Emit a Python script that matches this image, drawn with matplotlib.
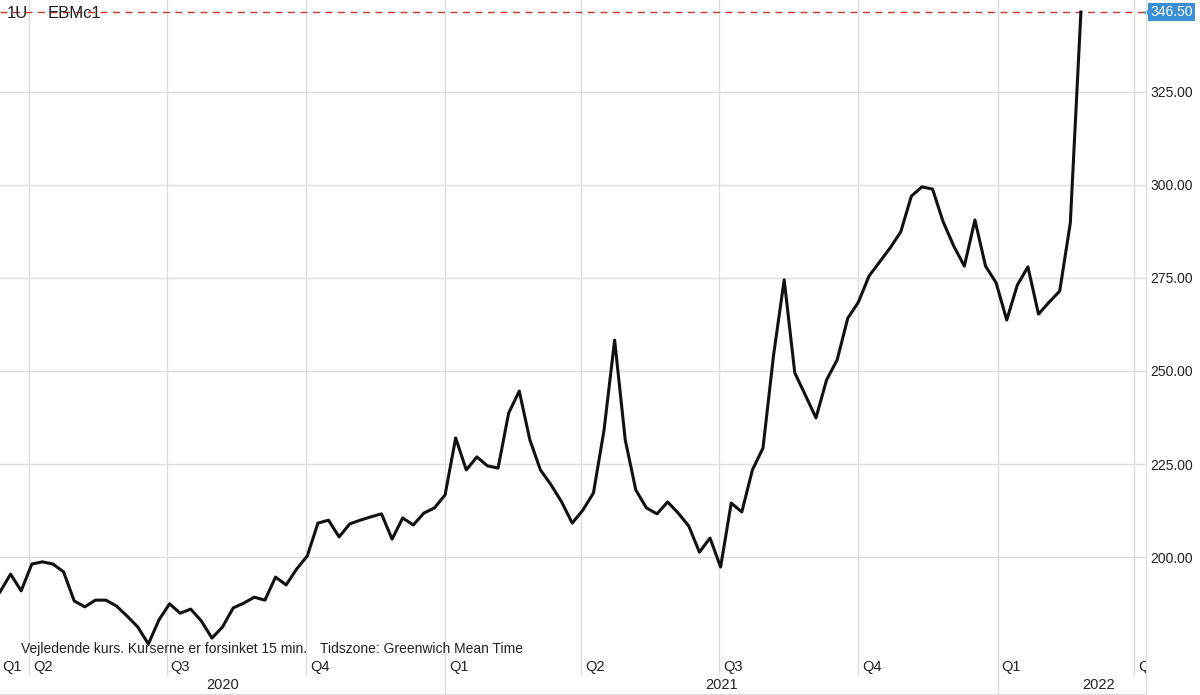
import numpy as np
import pandas as pd
import matplotlib
matplotlib.use("Agg")
import matplotlib.pyplot as plt
import matplotlib.dates as mdates
import matplotlib.transforms as mtransforms

# Weekly closes, EBMc1 (Euronext milling wheat)
dates = pd.date_range("2020-03-13", periods=103, freq="7D")
prices = [
    190.6, 195.4, 190.9, 198.1, 198.7, 198.1, 196.0, 188.2, 186.6, 188.4,
    188.4, 186.8, 184.1, 181.2, 176.6, 183.1, 187.4, 184.9, 186.0, 182.8,
    178.2, 181.2, 186.3, 187.6, 189.2, 188.4, 194.6, 192.5, 196.8, 200.3,
    209.1, 209.9, 205.4, 208.9, 209.9, 210.8, 211.6, 204.8, 210.5, 208.6,
    211.8, 213.2, 216.7, 232.0, 223.4, 226.9, 224.5, 223.9, 238.7, 244.6,
    231.5, 223.4, 219.4, 214.8, 209.1, 212.6, 217.2, 234.1, 258.3, 231.5,
    218.0, 213.2, 211.6, 214.8, 211.8, 208.3, 201.3, 205.1, 197.3, 214.5,
    212.1, 223.4, 229.3, 254.3, 274.5, 249.5, 243.5, 237.4, 247.6, 253.0,
    264.2, 268.5, 275.5, 279.3, 283.1, 287.4, 297.0, 299.5, 298.9, 290.1,
    283.6, 278.2, 290.6, 278.2, 273.7, 263.7, 273.1, 278.0, 265.3, 268.5,
    271.5, 289.8, 346.5,
]
last_price = 346.50

y_ticks = [200, 225, 250, 275, 300, 325]
quarter_starts = pd.to_datetime([
    "2020-04-01", "2020-07-01", "2020-10-01", "2021-01-01", "2021-04-01",
    "2021-07-01", "2021-10-01", "2022-01-01", "2022-04-01",
])
quarter_labels = ["Q2", "Q3", "Q4", "Q1", "Q2", "Q3", "Q4", "Q1", "Q2"]
year_starts = pd.to_datetime(["2021-01-01", "2022-01-01"])
year_labels = ["2020", "2021", "2022"]

W, H = 1200, 695
plt.rcParams["font.family"] = ["Liberation Sans", "DejaVu Sans"]
fig = plt.figure(figsize=(W / 100, H / 100), dpi=100)

grid_c = "#dedede"
txt_c = "#222222"
plot_right = 1146
ax = fig.add_axes([0, (H - 658) / H, plot_right / W, 658 / H])
ax_q = fig.add_axes([0, (H - 676) / H, plot_right / W, 18 / H])
ax_y = fig.add_axes([0, (H - 694) / H, plot_right / W, 18 / H])

x0 = mdates.date2num(pd.Timestamp("2020-03-13"))
x1 = mdates.date2num(pd.Timestamp("2022-04-09"))
for a in (ax, ax_q, ax_y):
    a.set_xlim(x0, x1)
    for s in ("top", "left"):
        a.spines[s].set_visible(False)
    a.spines["right"].set_color(grid_c)
    a.spines["bottom"].set_color(grid_c)

# main panel
ax.set_ylim(172.85, 349.73)
for q in quarter_starts:
    ax.axvline(mdates.date2num(q), color=grid_c, lw=1, zorder=0)
for t in y_ticks:
    ax.axhline(t, color=grid_c, lw=1, zorder=0)
ax.plot(mdates.date2num(dates), prices, color="#111111", lw=2.2, zorder=3)

ax.axhline(last_price, color="#c0392b", lw=1, ls=(0, (5, 4)), zorder=2)

ax.set_xticks([])
ax.yaxis.tick_right()
ax.set_yticks(y_ticks)
ax.set_yticklabels([f"{t:.2f}" for t in y_ticks], fontsize=10, color=txt_c)
ax.tick_params(axis="y", length=0, pad=3)

# last price tag
trans = mtransforms.blended_transform_factory(ax.transAxes, ax.transData)
ax.text(1.0 + 4 / plot_right, last_price, f"{last_price:.2f}", transform=trans,
        fontsize=10, color="white", va="center", ha="left", clip_on=False,
        bbox=dict(boxstyle="square,pad=0.15", fc="#3b8fd4", ec="none"))
ax.plot([1.0 + 2 / plot_right], [last_price], marker="<", ms=6, color="#3b8fd4",
        transform=trans, clip_on=False)

fig.text(7 / W, 1 - 13 / H, "1U", fontsize=12, va="center", ha="left", color=txt_c)
fig.text(48 / W, 1 - 13 / H, "EBMc1", fontsize=12, va="center", ha="left", color=txt_c)

fig.text(21 / W, 1 - 649 / H, "Vejledende kurs. Kurserne er forsinket 15 min.",
         fontsize=10, va="center", ha="left", color=txt_c)
fig.text(320 / W, 1 - 649 / H, "Tidszone: Greenwich Mean Time",
         fontsize=10, va="center", ha="left", color=txt_c)

# quarter row
ax_q.set_ylim(0, 1)
ax_q.set_xticks([])
ax_q.set_yticks([])
px = (x1 - x0) / plot_right
ax_q.text(x0 + 2 * px, 0.5, "Q1", fontsize=10.5, va="center", ha="left", color=txt_c)
for q, lab in zip(quarter_starts, quarter_labels):
    xq = mdates.date2num(q)
    ax_q.axvline(xq, color=grid_c, lw=1)
    ax_q.text(xq + 4 * px, 0.5, lab, fontsize=10.5, va="center", ha="left",
              color=txt_c, clip_on=True)

# year row
ax_y.set_ylim(0, 1)
ax_y.set_xticks([])
ax_y.set_yticks([])
bounds = [x0] + [mdates.date2num(y) for y in year_starts] + [x0 + W * px]
for y in year_starts:
    ax_y.axvline(mdates.date2num(y), color=grid_c, lw=1)
for i, lab in enumerate(year_labels):
    ax_y.text((bounds[i] + bounds[i + 1]) / 2, 0.5, lab, fontsize=10.5,
              va="center", ha="center", color=txt_c, clip_on=False)

fig.savefig("out.png", dpi=100, facecolor="white")
